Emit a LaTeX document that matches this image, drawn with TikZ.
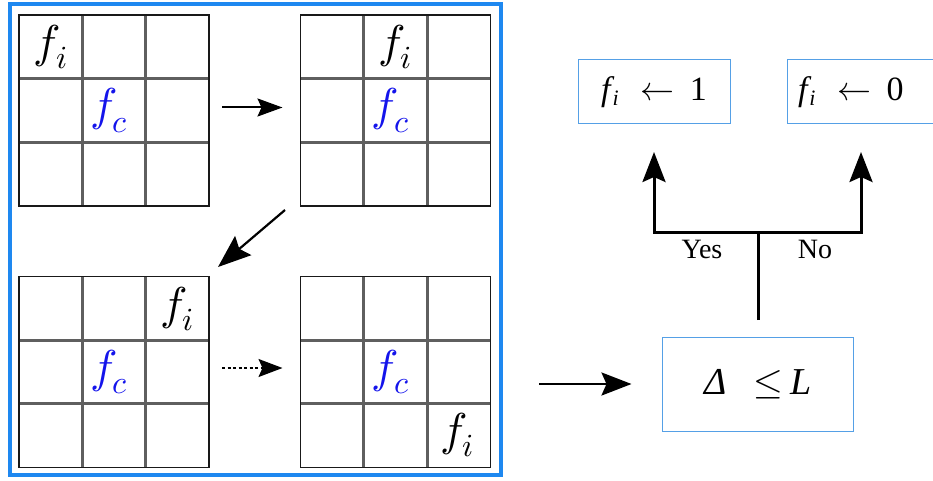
\documentclass[tikz,border=0pt]{standalone}
\usepackage{fontspec}
\usepackage{unicode-math}
\setmainfont{Liberation Serif}
\usetikzlibrary{arrows.meta,calc}
\definecolor{frameblue}{RGB}{30,136,240}
\definecolor{boxblue}{RGB}{85,160,230}
\definecolor{gridgray}{RGB}{95,95,95}
\definecolor{fcblue}{RGB}{20,20,235}
\newcommand\innerlines[1]{%
  \foreach \fr in {1/3,2/3}{%
    \draw[gridline] ($(#1.north west)!\fr!(#1.north east)$) -- ($(#1.south west)!\fr!(#1.south east)$);
    \draw[gridline] ($(#1.north west)!\fr!(#1.south west)$) -- ($(#1.north east)!\fr!(#1.south east)$);
  }%
  \draw[gridborder] (#1.north west) rectangle (#1.south east);%
}
\newcommand\assign[1]{\itshape f\hspace{2pt}\raisebox{-5pt}{\fontsize{22}{24}\selectfont i}\upshape\hspace{22pt}$\leftarrow$\hspace{15pt}#1}
\begin{document}
\begin{tikzpicture}[x=1pt,y=-1pt,
  cellgrid/.style={minimum width=190pt, minimum height=191pt, inner sep=0pt, outer sep=0pt},
  gridline/.style={draw=gridgray, line width=2.8pt},
  gridborder/.style={draw=black!90, line width=1.6pt},
  gridtext/.style={font=\fontsize{46}{50}\selectfont, inner sep=0pt},
  frame/.style={draw=frameblue, line width=4pt, minimum width=491.5pt, minimum height=470.5pt, inner sep=0pt, outer sep=0pt},
  resbox/.style={draw=boxblue, line width=1pt, inner sep=0pt, outer sep=0pt, font=\fontsize{34}{37}\selectfont},
  lab/.style={font=\fontsize{28}{30}\selectfont, inner sep=0pt},
  smallarrow/.style={line width=2pt, -{Stealth[length=25pt,width=18pt,inset=4pt]}},
  bigarrow/.style={line width=2.6pt, -{Stealth[length=30pt,width=23pt,inset=5pt]}},
  treeline/.style={line width=3pt},
]
\useasboundingbox (0,0) rectangle (933,481);

% outer frame
\node[frame] (frame) at (255.25,239.75) {};

% grids
\node[cellgrid] (g1) at (114,110.5) {};
\node[cellgrid] (g2) at (395.5,110.5) {};
\node[cellgrid] (g3) at (114,372) {};
\node[cellgrid] (g4) at (395.5,372) {};
\innerlines{g1}
\innerlines{g2}
\innerlines{g3}
\innerlines{g4}

% cell labels
\node[gridtext] (g1i) at (50.7,46.8) {$f_i$};
\node[gridtext, text=fcblue] (g1c) at (109,110.5) {$f_c$};
\node[gridtext] (g2i) at (395.5,46.8) {$f_i$};
\node[gridtext, text=fcblue] (g2c) at (390.5,110.5) {$f_c$};
\node[gridtext] (g3i) at (177.3,308.8) {$f_i$};
\node[gridtext, text=fcblue] (g3c) at (109,372) {$f_c$};
\node[gridtext, text=fcblue] (g4c) at (390.5,372) {$f_c$};
\node[gridtext] (g4i) at (457.5,435) {$f_i$};

% arrows between grids
\draw[smallarrow, shorten <=13pt, shorten >=18pt] ([yshift=3pt]g1.east) -- ([yshift=3pt]g2.west);
\coordinate (d1) at (285,210);
\coordinate (d2) at (218,267);
\draw[line width=2.2pt, -{Stealth[length=33pt,width=25pt,inset=5pt]}] (d1) -- (d2);
\draw[line width=1.6pt, dash pattern=on 3pt off 2.5pt, -{Stealth[length=24pt,width=18pt,inset=4pt]},
      shorten <=13pt, shorten >=18pt] ([yshift=4pt]g3.east) -- ([yshift=4pt]g4.west);

% right side
\node[resbox, font=\fontsize{38}{41}\selectfont, minimum width=191pt, minimum height=94pt] (delta) at (758,384)
  {\itshape Δ\hspace{27pt}$\leq$\hspace{8pt}L};
\node[resbox, minimum width=152pt, minimum height=64pt] (b1) at (654,92) {\assign{1}};
\node[resbox, anchor=west, minimum width=148pt, minimum height=64pt, inner xsep=11pt,
      text width=126pt, align=left] (b2) at (787,92) {\assign{0}};

\draw[bigarrow, shorten <=38pt, shorten >=31pt] (frame.east |- delta.west) -- (delta.west);

\coordinate (j) at (758,232);
\draw[treeline] ([yshift=17pt]delta.north) -- (j);
\draw[treeline, -{Stealth[length=30pt,width=23pt,inset=5pt]}, shorten >=28pt] (j) -| (b1.south);
\draw[treeline, -{Stealth[length=30pt,width=23pt,inset=5pt]}, shorten >=28pt] (j) -| (b2.south);

\node[lab] (yes) at (702,249) {Yes};
\node[lab] (no) at (815,249) {No};
\end{tikzpicture}
\end{document}
